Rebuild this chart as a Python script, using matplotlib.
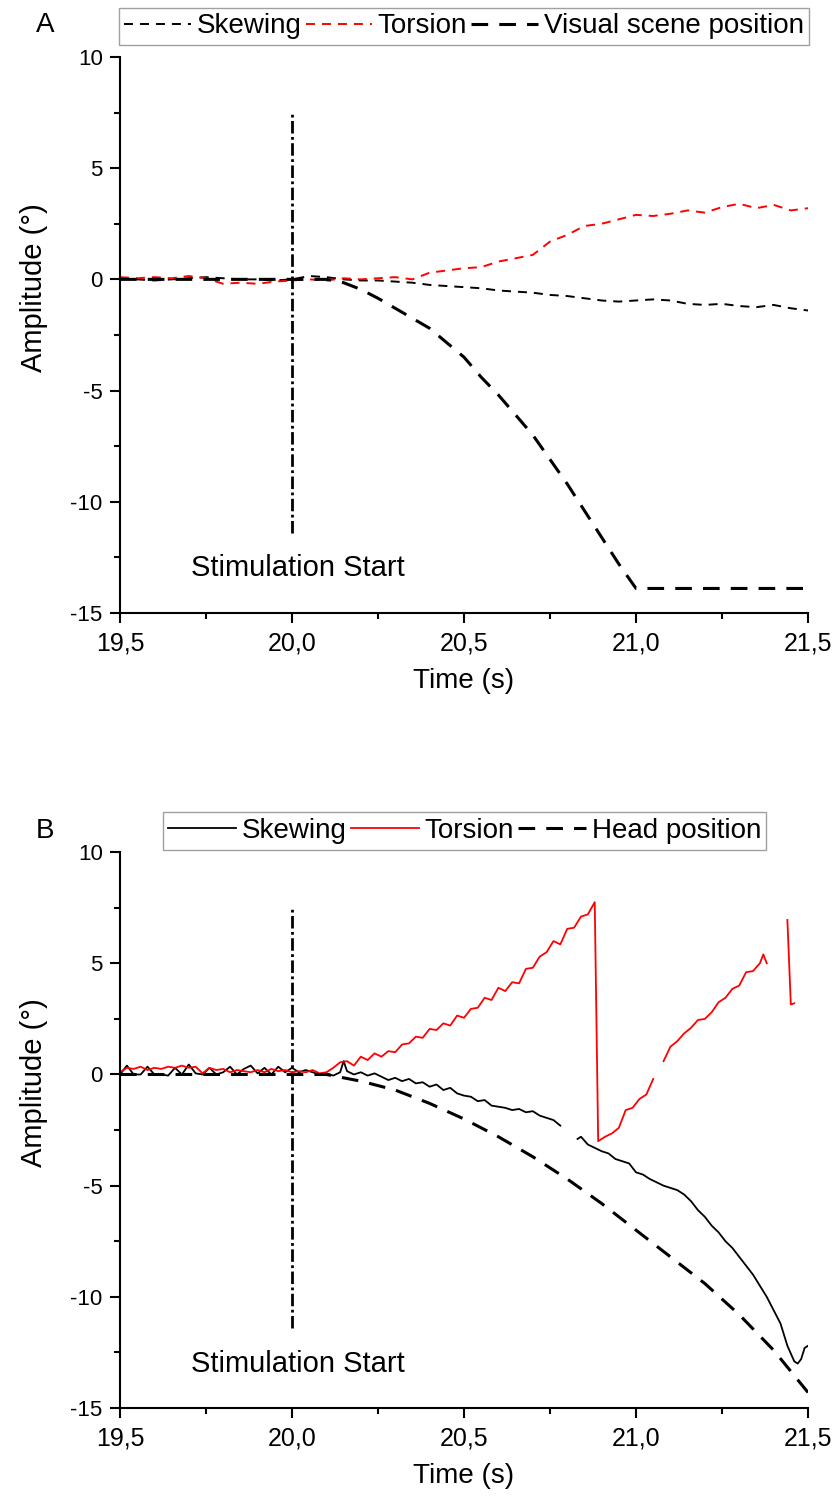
import numpy as np
import matplotlib
matplotlib.use("Agg")
import matplotlib.pyplot as plt
from matplotlib.ticker import MultipleLocator, FuncFormatter
from matplotlib.lines import Line2D

plt.rcParams['font.family'] = ['Liberation Sans', 'DejaVu Sans']
plt.rcParams['axes.unicode_minus'] = False
plt.rcParams['lines.scale_dashes'] = False

nan = np.nan

# ---- Panel A: visual scene stimulation ----
a_x = [19.50, 19.55, 19.60, 19.65, 19.70, 19.75, 19.80, 19.85, 19.90, 19.95,
       20.00, 20.05, 20.10, 20.15, 20.20, 20.25, 20.30, 20.35, 20.40, 20.45,
       20.50, 20.55, 20.60, 20.65, 20.70, 20.75, 20.80, 20.85, 20.90, 20.95,
       21.00, 21.05, 21.10, 21.15, 21.20, 21.25, 21.30, 21.35, 21.40, 21.45,
       21.50]
a_skew = [0.05, 0.0, -0.05, 0.0, 0.05, 0.1, 0.05, 0.0, 0.0, -0.05,
          0.0, 0.15, 0.1, 0.0, -0.05, -0.05, -0.1, -0.15, -0.25, -0.3,
          -0.35, -0.4, -0.5, -0.55, -0.6, -0.7, -0.75, -0.85, -0.95, -1.0,
          -0.95, -0.9, -0.95, -1.1, -1.15, -1.1, -1.2, -1.25, -1.15, -1.3,
          -1.4]
a_tors = [0.1, 0.05, 0.1, 0.05, 0.15, 0.05, -0.2, -0.15, -0.2, -0.1,
          -0.05, 0.0, -0.05, 0.05, 0.0, 0.05, 0.1, 0.0, 0.3, 0.4,
          0.5, 0.55, 0.8, 0.95, 1.1, 1.7, 2.0, 2.4, 2.5, 2.7,
          2.9, 2.85, 2.95, 3.1, 3.0, 3.25, 3.4, 3.2, 3.35, 3.1,
          3.2]
a_scene_x = [19.5, 20.1, 20.15, 20.2, 20.25, 20.3, 20.35, 20.4, 20.45, 20.5,
             20.55, 20.6, 20.65, 20.7, 20.75, 20.8, 20.85, 20.9, 20.95, 21.0,
             21.5]
a_scene = [0, 0, -0.15, -0.45, -0.85, -1.3, -1.75, -2.2, -2.85, -3.5,
           -4.4, -5.2, -6.1, -7.0, -8.1, -9.2, -10.4, -11.6, -12.8, -13.9,
           -13.9]

# ---- Panel B: head tilt ----
b_skew_x = [19.50, 19.52, 19.54, 19.56, 19.58, 19.60, 19.62, 19.64, 19.66, 19.68,
            19.70, 19.72, 19.74, 19.76, 19.78, 19.80, 19.82, 19.84, 19.86, 19.88,
            19.90, 19.92, 19.94, 19.96, 19.98, 20.00, 20.02, 20.04, 20.06, 20.08,
            20.10, 20.12, 20.14, 20.15, 20.16, 20.18, 20.20, 20.22, 20.24, 20.26,
            20.28, 20.30, 20.32, 20.34, 20.36, 20.38, 20.40, 20.42, 20.44, 20.46,
            20.48, 20.50, 20.52, 20.54, 20.56, 20.58, 20.60, 20.62, 20.64, 20.66,
            20.68, 20.70, 20.72, 20.74, 20.76, 20.78, 20.80, 20.83, 20.84, 20.86,
            20.88, 20.90, 20.92, 20.94, 20.96, 20.98, 21.00, 21.02, 21.04, 21.06,
            21.08, 21.10, 21.12, 21.14, 21.16, 21.18, 21.20, 21.22, 21.24, 21.26,
            21.28, 21.30, 21.32, 21.34, 21.36, 21.38, 21.40, 21.42, 21.44, 21.46,
            21.47, 21.48, 21.49, 21.50]
b_skew = [0.0, 0.4, 0.0, 0.0, 0.35, 0.0, 0.0, -0.05, 0.3, 0.0,
          0.45, 0.05, 0.0, 0.3, 0.0, 0.1, 0.35, 0.0, 0.25, 0.4,
          0.05, 0.3, 0.0, 0.35, 0.1, 0.3, 0.1, 0.2, 0.1, 0.0,
          0.05, -0.05, 0.1, 0.6, 0.15, 0.0, 0.1, -0.05, 0.05, -0.1,
          -0.25, -0.15, -0.3, -0.2, -0.4, -0.35, -0.55, -0.45, -0.7, -0.6,
          -0.85, -0.95, -1.0, -1.2, -1.15, -1.4, -1.45, -1.5, -1.6, -1.55,
          -1.7, -1.65, -1.85, -1.95, -2.05, -2.3, nan, -2.9, -2.8, -3.15,
          -3.3, -3.45, -3.55, -3.8, -3.9, -4.0, -4.4, -4.5, -4.7, -4.85,
          -5.0, -5.1, -5.2, -5.4, -5.7, -6.1, -6.4, -6.8, -7.1, -7.5,
          -7.8, -8.2, -8.6, -9.0, -9.5, -10.0, -10.6, -11.2, -12.2, -12.9,
          -13.0, -12.8, -12.3, -12.2]

b_tors_x = [19.50, 19.52, 19.54, 19.56, 19.58, 19.60, 19.62, 19.64, 19.66, 19.68,
            19.70, 19.72, 19.74, 19.76, 19.78, 19.80, 19.82, 19.84, 19.86, 19.88,
            19.90, 19.92, 19.94, 19.96, 19.98, 20.00, 20.02, 20.04, 20.06, 20.08,
            20.10, 20.12, 20.14, 20.16, 20.18, 20.20, 20.22, 20.24, 20.26, 20.28,
            20.30, 20.32, 20.34, 20.36, 20.38, 20.40, 20.42, 20.44, 20.46, 20.48,
            20.50, 20.52, 20.54, 20.56, 20.58, 20.60, 20.62, 20.64, 20.66, 20.68,
            20.70, 20.72, 20.74, 20.76, 20.78, 20.80, 20.82, 20.84, 20.86, 20.88,
            20.89, 20.91, 20.93, 20.95, 20.97, 20.99, 21.01, 21.03, 21.05, 21.06,
            21.08, 21.10, 21.12, 21.14, 21.16, 21.18, 21.20, 21.22, 21.24, 21.26,
            21.28, 21.30, 21.32, 21.34, 21.36, 21.37, 21.38, 21.39, 21.44, 21.45,
            21.46]
b_tors = [0.1, 0.3, 0.25, 0.35, 0.2, 0.3, 0.25, 0.35, 0.3, 0.4,
          0.3, 0.35, 0.05, 0.3, 0.2, 0.25, 0.1, 0.2, 0.15, 0.1,
          0.2, 0.1, 0.25, 0.15, 0.2, 0.1, 0.15, 0.1, 0.2, 0.05,
          0.1, 0.3, 0.55, 0.6, 0.4, 0.8, 0.65, 0.95, 0.8, 1.05,
          1.0, 1.35, 1.4, 1.7, 1.65, 2.05, 2.0, 2.3, 2.2, 2.65,
          2.55, 2.95, 3.0, 3.45, 3.35, 3.9, 3.75, 4.15, 4.1, 4.75,
          4.8, 5.3, 5.5, 6.0, 5.85, 6.55, 6.6, 7.1, 7.2, 7.75,
          -3.0, -2.8, -2.65, -2.4, -1.6, -1.5, -1.1, -0.9, -0.2, nan,
          0.6, 1.25, 1.5, 1.85, 2.1, 2.45, 2.5, 2.8, 3.25, 3.45,
          3.85, 4.0, 4.6, 4.65, 5.0, 5.4, 5.0, nan, 6.95, 3.15,
          3.2]

b_head_x = [19.5, 20.1, 20.2, 20.3, 20.4, 20.5, 20.6, 20.7, 20.8, 20.9,
            21.0, 21.1, 21.2, 21.3, 21.4, 21.5]
b_head = [0, 0, -0.3, -0.7, -1.3, -2.0, -2.8, -3.7, -4.7, -5.8,
          -7.0, -8.2, -9.4, -10.8, -12.4, -14.3]

stim_x = 20.0
stim_y = [-11.4, 7.5]

SHORT = (0, (6.5, 5))
LONG = (0, (12, 8))
DASHDOT = (0, (9, 2.5, 2, 2.5))

fig = plt.figure(figsize=(8.35, 14.96), dpi=100)
axA = fig.add_axes([0.1437, 0.5903, 0.824, 0.3716])
axB = fig.add_axes([0.1437, 0.0588, 0.824, 0.3716])


def style_axes(ax):
    ax.set_xlim(19.5, 21.5)
    ax.set_ylim(-15, 10)
    for s in ('top', 'right'):
        ax.spines[s].set_visible(False)
    for s in ('left', 'bottom'):
        ax.spines[s].set_linewidth(1.5)
    ax.xaxis.set_major_locator(MultipleLocator(0.5))
    ax.xaxis.set_minor_locator(MultipleLocator(0.25))
    ax.yaxis.set_major_locator(MultipleLocator(5))
    ax.yaxis.set_minor_locator(MultipleLocator(2.5))
    ax.xaxis.set_major_formatter(FuncFormatter(lambda v, p: f"{v:.1f}".replace('.', ',')))
    ax.tick_params(axis='both', which='major', direction='out', length=7.5, width=1.5)
    ax.tick_params(axis='both', which='minor', direction='out', length=4.5, width=1.5)
    ax.tick_params(axis='x', which='major', pad=6, labelsize=18)
    ax.tick_params(axis='y', which='major', pad=5, labelsize=16)
    ax.set_xlabel('Time (s)', fontsize=20, labelpad=9)
    ax.set_ylabel('Amplitude (°)', fontsize=21)
    ax.yaxis.set_label_coords(-0.105, 0.585)
    ax.plot([stim_x, stim_x], stim_y, color='black', lw=2.0, linestyle=DASHDOT)
    ax.text(19.706, -13.0, 'Stimulation Start', fontsize=21, va='center', ha='left')


# Panel A
style_axes(axA)
axA.plot(a_x, a_skew, color='black', lw=1.4, linestyle=SHORT)
axA.plot(a_x, a_tors, color='#ff0000', lw=1.4, linestyle=SHORT)
axA.plot(a_scene_x, a_scene, color='black', lw=2.2, linestyle=LONG)

# Panel B
style_axes(axB)
axB.plot(b_skew_x, b_skew, color='black', lw=1.3)
axB.plot(b_tors_x, b_tors, color='#ff0000', lw=1.3)
axB.plot(b_head_x, b_head, color='black', lw=2.2, linestyle=LONG)

leg_kw = dict(loc='center', ncol=3, fontsize=20, frameon=True, fancybox=False,
              edgecolor='#888888', borderpad=0.2, handletextpad=0.2,
              columnspacing=0.15, borderaxespad=0)

hA = [Line2D([], [], color='black', lw=1.4, linestyle=SHORT),
      Line2D([], [], color='#ff0000', lw=1.4, linestyle=SHORT),
      Line2D([], [], color='black', lw=2.2, linestyle=LONG)]
legA = fig.legend(hA, ['Skewing', 'Torsion', 'Visual scene position'],
                  bbox_to_anchor=(0.5557, 0.9823), handlelength=2.4, **leg_kw)
hB = [Line2D([], [], color='black', lw=1.3),
      Line2D([], [], color='#ff0000', lw=1.3),
      Line2D([], [], color='black', lw=2.2, linestyle=LONG)]
legB = fig.legend(hB, ['Skewing', 'Torsion', 'Head position'],
                  bbox_to_anchor=(0.5563, 0.4445), handlelength=2.45, **leg_kw)
for lg in (legA, legB):
    lg.get_frame().set_linewidth(1.0)

fig.text(0.054, 0.983, 'A', fontsize=20, ha='center', va='center')
fig.text(0.054, 0.4445, 'B', fontsize=20, ha='center', va='center')

fig.savefig('out.png', dpi=100, facecolor='white')
